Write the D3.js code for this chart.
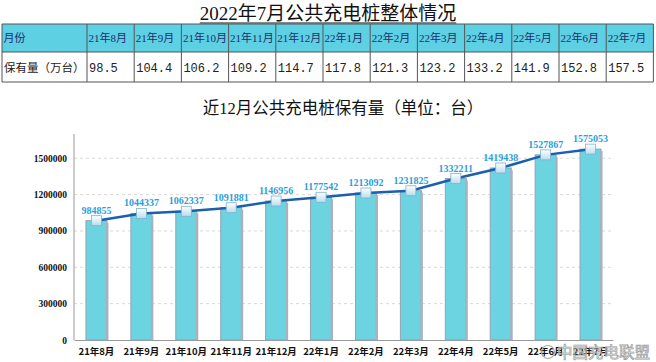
<!DOCTYPE html>
<html>
<head>
<meta charset="utf-8">
<script src="https://cdn.jsdelivr.net/npm/d3@7"></script>
<style>
  body { margin: 0; background: #fff; }
  svg { display: block; }
</style>
</head>
<body>
<svg id="chart"></svg>
<script>
const months = ["21年8月", "21年9月", "21年10月", "21年11月", "21年12月", "22年1月",
  "22年2月", "22年3月", "22年4月", "22年5月", "22年6月", "22年7月"];
const stockWan = ["98.5", "104.4", "106.2", "109.2", "114.7", "117.8",
  "121.3", "123.2", "133.2", "141.9", "152.8", "157.5"];
const stock = [984855, 1044337, 1062337, 1091881, 1146956, 1177542,
  1213092, 1231825, 1332211, 1419438, 1527867, 1575053];
const yTicks = [0, 300000, 600000, 900000, 1200000, 1500000];

const W = 656, H = 362;
const serif = "'Liberation Serif', 'Noto Sans CJK SC', serif";
const cjk = "'Noto Sans CJK SC', sans-serif";

const svg = d3.select("#chart").attr("width", W).attr("height", H);

// main title
const title = svg.append("text")
  .attr("x", 328).attr("y", 20)
  .attr("text-anchor", "middle")
  .style("font-family", serif)
  .style("font-size", "19px")
  .attr("fill", "#111")
  .text("2022年7月公共充电桩整体情况");
const tb = title.node().getBBox();
svg.append("line")
  .attr("x1", tb.x).attr("x2", tb.x + tb.width)
  .attr("y1", 23).attr("y2", 23)
  .attr("stroke", "#111").attr("stroke-width", 1);

// table
const tableX = 2, firstW = 85, colW = 47.2;
const rowTop = 24, row1H = 28, row2H = 30;
const colX = d3.range(months.length + 1).map(i => i === 0 ? tableX : tableX + firstW + (i - 1) * colW);
const table = svg.append("g");
table.append("rect")
  .attr("x", tableX).attr("y", rowTop)
  .attr("width", firstW + colW * months.length).attr("height", row1H)
  .attr("fill", "#5dd0e4");
const headRow = ["月份", ...months];
const valRow = ["保有量（万台）", ...stockWan];
headRow.forEach((t, i) => {
  table.append("text")
    .attr("x", colX[i] + 1.5).attr("y", rowTop + row1H / 2 + 4)
    .style("font-family", serif).style("font-size", "11px")
    .attr("fill", "#1c2f6a").text(t);
});
valRow.forEach((t, i) => {
  table.append("text")
    .attr("x", colX[i] + 2).attr("y", rowTop + row1H + row2H / 2 + 5)
    .style("font-family", i === 0 ? cjk : "'Liberation Mono', monospace")
    .style("font-size", i === 0 ? "11.5px" : "12px")
    .attr("fill", "#222").text(t);
});
const tableR = tableX + firstW + colW * months.length;
[rowTop, rowTop + row1H, rowTop + row1H + row2H].forEach(y => {
  table.append("line").attr("x1", tableX).attr("x2", tableR)
    .attr("y1", y).attr("y2", y).attr("stroke", "#555").attr("stroke-width", 1);
});
[...colX, tableR].forEach(x => {
  table.append("line").attr("x1", x).attr("x2", x)
    .attr("y1", rowTop).attr("y2", rowTop + row1H + row2H)
    .attr("stroke", "#555").attr("stroke-width", 1);
});

// chart title
svg.append("text")
  .attr("x", 343).attr("y", 114)
  .attr("text-anchor", "middle")
  .style("font-family", serif)
  .style("font-size", "16.5px")
  .attr("fill", "#111")
  .text("近12月公共充电桩保有量（单位：台）");

// chart
const x = d3.scaleBand().domain(months).range([74, 613]);
const y = d3.scaleLinear().domain([0, 1700000]).range([340, 134]);

const defs = svg.append("defs");
const mg = defs.append("linearGradient").attr("id", "mk")
  .attr("x1", 0).attr("y1", 0).attr("x2", 0).attr("y2", 1);
mg.append("stop").attr("offset", "0%").attr("stop-color", "#ffffff");
mg.append("stop").attr("offset", "100%").attr("stop-color", "#b9dcec");

// grid
svg.append("g").selectAll("line")
  .data(yTicks.filter(d => d > 0))
  .join("line")
  .attr("x1", 74).attr("x2", 613)
  .attr("y1", d => y(d)).attr("y2", d => y(d))
  .attr("stroke", "#d8d8d8").attr("stroke-dasharray", "3,3");

// y axis
const yAxis = svg.append("g")
  .attr("transform", "translate(74,0)")
  .call(d3.axisLeft(y).tickValues(yTicks).tickFormat(d3.format("d")).tickSize(0).tickPadding(7));
yAxis.select(".domain").remove();
yAxis.selectAll("text")
  .style("font-family", "'Liberation Serif', serif")
  .style("font-size", "9.5px").style("font-weight", "bold").attr("fill", "#111");
svg.append("line").attr("x1", 74).attr("x2", 74).attr("y1", 134).attr("y2", 340)
  .attr("stroke", "#999");

// x axis
const xAxis = svg.append("g")
  .attr("transform", "translate(0,340)")
  .call(d3.axisBottom(x).tickSize(0).tickPadding(8));
xAxis.select(".domain").attr("stroke", "#999");
xAxis.selectAll("text")
  .style("font-family", cjk)
  .style("font-size", "9.5px").style("font-weight", "bold").attr("fill", "#111");

// bars
const bw = 21;
const bars = svg.append("g").selectAll("g").data(months).join("g");
bars.append("rect")
  .attr("x", d => x(d) + x.bandwidth() / 2 - bw / 2)
  .attr("y", (d, i) => y(stock[i]))
  .attr("width", bw)
  .attr("height", (d, i) => 340 - y(stock[i]))
  .attr("fill", "#6cd3e1")
  .attr("stroke", "#90a3b8").attr("stroke-width", 1);
bars.append("rect")
  .attr("x", d => x(d) + x.bandwidth() / 2 + bw / 2 - 1)
  .attr("y", (d, i) => y(stock[i]) + 2)
  .attr("width", 2.5)
  .attr("height", (d, i) => 338 - y(stock[i]))
  .attr("fill", "#a9b1bf");

// line
const cx = d => x(d) + x.bandwidth() / 2;
svg.append("path")
  .datum(months)
  .attr("fill", "none")
  .attr("stroke", "#1b5fae")
  .attr("stroke-width", 2.5)
  .attr("d", d3.line().x(cx).y((d, i) => y(stock[i])));

svg.append("g").selectAll("rect").data(months).join("rect")
  .attr("x", d => cx(d) - 5).attr("y", (d, i) => y(stock[i]) - 5)
  .attr("width", 10).attr("height", 10)
  .attr("fill", "url(#mk)").attr("stroke", "#7fb2cf").attr("stroke-width", 0.8);

svg.append("g").selectAll("text").data(months).join("text")
  .attr("x", cx).attr("y", (d, i) => y(stock[i]) - 7)
  .attr("text-anchor", "middle")
  .style("font-family", "'Liberation Serif', serif")
  .style("font-size", "10px").style("font-weight", "bold")
  .attr("fill", "#2aa0da")
  .text((d, i) => stock[i]);

// watermark
svg.append("circle").attr("cx", 548).attr("cy", 352).attr("r", 6.5)
  .attr("fill", "none").attr("stroke", "#aaa").attr("stroke-width", 1.2);
svg.append("text")
  .attr("x", 557).attr("y", 358)
  .style("font-family", cjk).style("font-size", "15.5px")
  .attr("fill", "rgba(255,255,255,0.5)").attr("stroke", "#999").attr("stroke-width", 0.7)
  .text("中国充电联盟");
</script>
</body>
</html>
